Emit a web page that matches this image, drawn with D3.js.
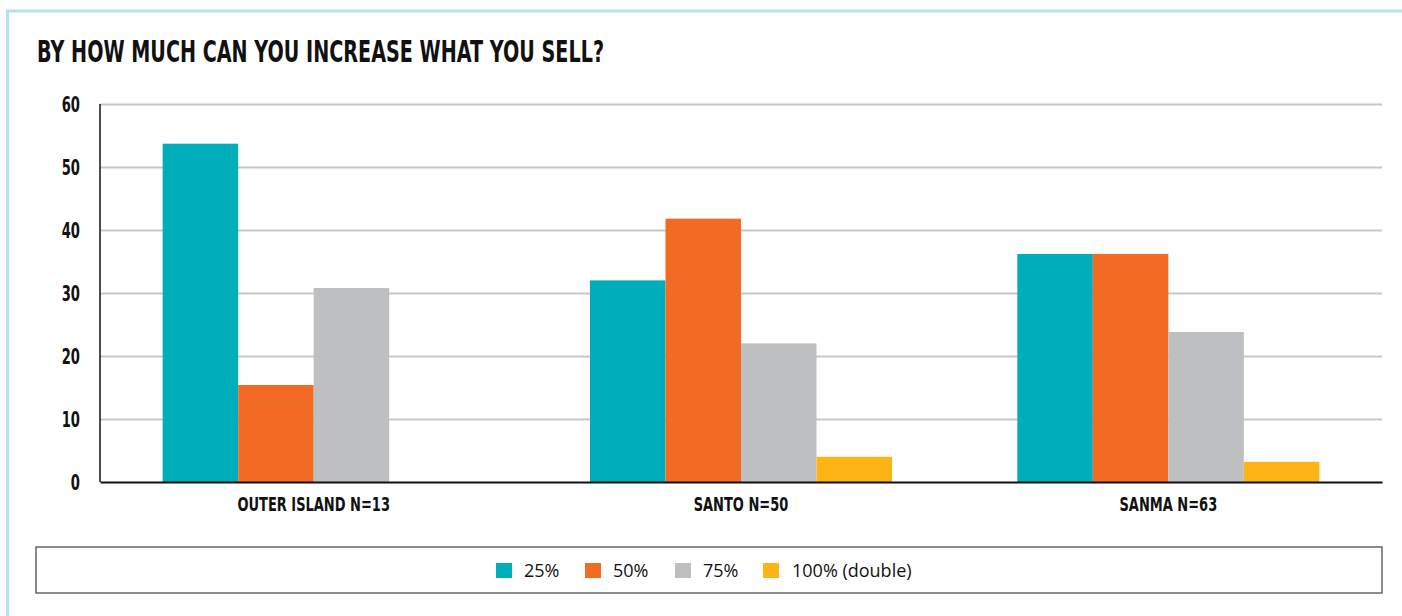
<!DOCTYPE html>
<html><head><meta charset="utf-8">
<script src="https://cdn.jsdelivr.net/npm/d3@7"></script>
<style>
html,body{margin:0;padding:0;background:#fff;}
svg{display:block;}
</style></head>
<body>
<svg id="chart" width="1402" height="616"></svg>
<script>
const title = "BY HOW MUCH CAN YOU INCREASE WHAT YOU SELL?";
const categories = ["OUTER ISLAND N=13", "SANTO N=50", "SANMA N=63"];
const seriesNames = ["25%", "50%", "75%", "100% (double)"];
const seriesColors = ["#00adba", "#f26b24", "#bebfc1", "#fdb515"];
const s25 = [53.7, 32, 36.2];
const s50 = [15.4, 41.8, 36.2];
const s75 = [30.8, 22, 23.8];
const s100 = [0, 4, 3.2];
const yTicks = [0, 10, 20, 30, 40, 50, 60];

(function () {
const seriesValues = [s25, s50, s75, s100];
const svg = d3.select("#chart");
const condensed = "'Liberation Sans Narrow','DejaVu Sans Condensed','Arial Narrow',sans-serif";
function squeeze(sel, factor) {
  sel.each(function () {
    const w = this.getComputedTextLength();
    d3.select(this).attr("textLength", w * factor).attr("lengthAdjust", "spacingAndGlyphs");
  });
}

// frame
svg.append("line").attr("x1", 7.5).attr("x2", 7.5).attr("y1", 10).attr("y2", 616)
  .attr("stroke", "#b5e2ea").attr("stroke-width", 3);
svg.append("line").attr("x1", 6).attr("x2", 1402).attr("y1", 11).attr("y2", 11)
  .attr("stroke", "#b5e2ea").attr("stroke-width", 3);

// title
svg.append("text").attr("x", 37).attr("y", 62)
  .attr("font-family", "'DejaVu Sans',sans-serif").attr("font-weight", "bold").attr("font-size", 30)
  .attr("textLength", 567).attr("lengthAdjust", "spacingAndGlyphs")
  .attr("fill", "#111").text(title);

const pl = 100, pr = 1382, pt = 104, pb = 482;
const x0 = d3.scaleBand().domain(categories).range([pl, pr]).paddingInner(0).paddingOuter(0);
const groupW = 302;
const x1 = d3.scaleBand().domain(seriesNames).range([0, groupW]);
const y = d3.scaleLinear().domain([0, 60]).range([pb, pt]);

// gridlines
const grid = svg.append("g").attr("transform", `translate(${pl},0)`)
  .call(d3.axisLeft(y).tickValues(yTicks.filter(t => t > 0)).tickSize(-(pr - pl)).tickFormat(""));
grid.select(".domain").remove();
grid.selectAll("line").attr("stroke", "#c8c8c8").attr("stroke-width", 2);

// y axis labels
const yAxis = svg.append("g").attr("transform", `translate(${pl},0)`)
  .call(d3.axisLeft(y).tickValues(yTicks).tickSize(0).tickPadding(20));
yAxis.select(".domain").remove();
yAxis.selectAll("text").attr("font-family", "'DejaVu Sans',sans-serif").attr("font-weight", "bold")
  .attr("font-size", 21.5).attr("fill", "#111").attr("dy", "0.36em");
squeeze(yAxis.selectAll("text"), 0.61);

// bars
const groups = svg.append("g").selectAll("g").data(categories).join("g")
  .attr("transform", d => `translate(${x0(d) + (x0.bandwidth() - groupW) / 2},0)`);
groups.selectAll("rect").data((d, i) => seriesNames.map((s, j) => ({s, v: seriesValues[j][i], c: seriesColors[j]})))
  .join("rect")
  .attr("x", d => x1(d.s)).attr("width", x1.bandwidth())
  .attr("y", d => y(d.v)).attr("height", d => pb - y(d.v))
  .attr("fill", d => d.c);

// axes lines
svg.append("line").attr("x1", pl).attr("x2", pl).attr("y1", pt).attr("y2", pb)
  .attr("stroke", "#111").attr("stroke-width", 1.5);
const xAxis = svg.append("g").attr("transform", `translate(0,${pb})`)
  .call(d3.axisBottom(x0).tickSize(0).tickPadding(20));
xAxis.select(".domain").attr("stroke", "#111").attr("stroke-width", 2);
xAxis.selectAll("text").attr("font-family", "'DejaVu Sans',sans-serif").attr("font-weight", "bold")
  .attr("font-size", 20).attr("fill", "#111").attr("dy", "0.45em");
squeeze(xAxis.selectAll("text"), 0.65);

// legend
svg.append("rect").attr("x", 36).attr("y", 547).attr("width", 1346).attr("height", 46)
  .attr("fill", "none").attr("stroke", "#666").attr("stroke-width", 1.5);
const legendX = [496, 585, 675, 763];
const lg = svg.append("g").selectAll("g").data(seriesNames).join("g")
  .attr("transform", (d, i) => `translate(${legendX[i]},563)`);
lg.append("rect").attr("width", 16).attr("height", 15).attr("fill", (d, i) => seriesColors[i]);
lg.append("text").attr("x", d => d === "100% (double)" ? 29 : 28).attr("y", 14).attr("font-family", "'Open Sans',sans-serif")
  .attr("font-size", 18).attr("fill", "#111").text(d => d);
})();
</script>
</body></html>
